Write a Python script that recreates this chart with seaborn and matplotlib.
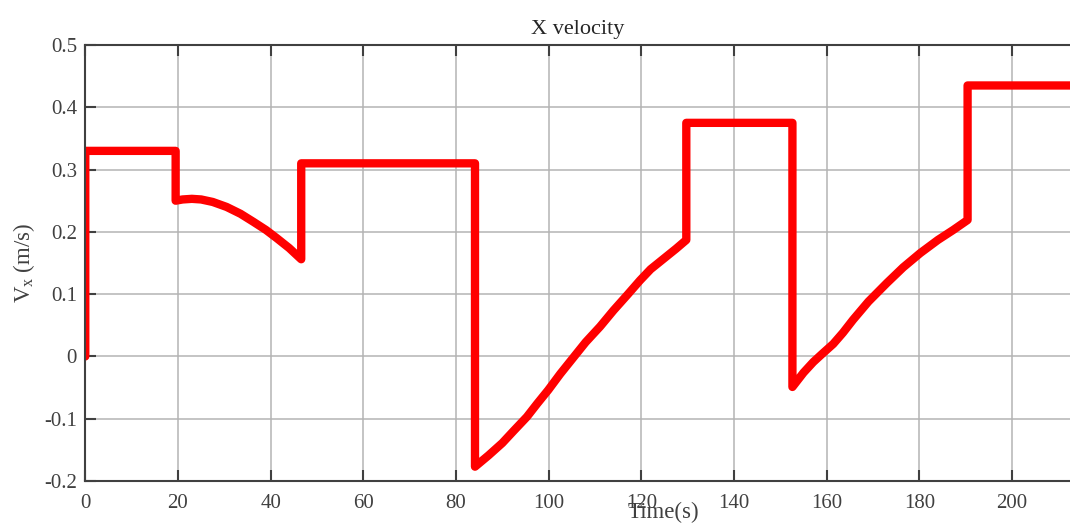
import matplotlib
matplotlib.use("Agg")
import matplotlib.pyplot as plt
import seaborn as sns
import pandas as pd

# Velocity trace along X: time (s) and velocity (m/s)
time_s = [0.0, 0.0, 19.5, 19.5, 21.0, 23.0, 25.0, 27.5, 30.5, 33.5,
          36.3, 39.0, 41.3, 44.0, 46.6, 46.6, 84.1, 84.1, 87.0, 90.0,
          92.5, 95.3, 97.5, 99.9, 102.5, 105.3, 108.0, 111.1, 114.0, 117.0,
          119.7, 122.0, 125.0, 127.5, 129.7, 129.7, 152.6, 152.6, 155.0, 157.1,
          159.0, 161.4, 163.5, 165.7, 169.0, 173.0, 176.5, 180.2, 184.0, 187.3,
          190.4, 190.4, 212.5]
vx = [0.0, 0.33, 0.33, 0.250, 0.252, 0.253, 0.252, 0.248, 0.240, 0.229,
      0.216, 0.203, 0.190, 0.174, 0.156, 0.31, 0.31, -0.177, -0.159, -0.139,
      -0.119, -0.097, -0.076, -0.054, -0.028, -0.002, 0.023, 0.048, 0.074, 0.099,
      0.122, 0.140, 0.158, 0.173, 0.187, 0.375, 0.375, -0.049, -0.026, -0.009,
      0.004, 0.020, 0.038, 0.059, 0.088, 0.118, 0.143, 0.166, 0.187, 0.203,
      0.219, 0.435, 0.435]

x_ticks = [0, 20, 40, 60, 80, 100, 120, 140, 160, 180, 200]
y_ticks = [-0.2, -0.1, 0, 0.1, 0.2, 0.3, 0.4, 0.5]
y_tick_labels = ["-0.2", "-0.1", "0", "0.1", "0.2", "0.3", "0.4", "0.5"]

df = pd.DataFrame({"t": time_s, "vx": vx})

sns.set_theme(style="whitegrid")
plt.rcParams["font.family"] = ["Liberation Serif", "DejaVu Serif"]
plt.rcParams["mathtext.fontset"] = "custom"
plt.rcParams["mathtext.rm"] = "Liberation Serif"
plt.rcParams["mathtext.it"] = "Liberation Serif"

fig = plt.figure(figsize=(10.7, 5.28), dpi=100)
ax = fig.add_axes([0.0797, 0.0890, 1.0 - 0.0797, 0.8258])

sns.lineplot(data=df, x="t", y="vx", ax=ax, estimator=None, sort=False,
             color="#ff0000", linewidth=6.0,
             solid_joinstyle="round", solid_capstyle="round")

ax.set_xlim(0, 212.5)
ax.set_ylim(-0.2, 0.5)
ax.set_xticks(x_ticks)
ax.set_yticks(y_ticks)
ax.set_yticklabels(y_tick_labels)

ax.grid(True, color="#b4b4b4", linewidth=1.1)
ax.set_facecolor("white")
spine_color = "#404040"
for side in ("left", "bottom", "top"):
    ax.spines[side].set_visible(True)
    ax.spines[side].set_color(spine_color)
    ax.spines[side].set_linewidth(1.5)
ax.spines["right"].set_visible(False)

ax.tick_params(axis="both", direction="in", length=8, width=1.5,
               color=spine_color, labelcolor="#404040", labelsize=15)
ax.tick_params(axis="x", top=True, bottom=True, pad=9)
ax.tick_params(axis="y", left=True, right=False, pad=6)

ax.set_title("X velocity", fontsize=16, color="#262626", pad=8)
ax.set_xlabel("Time(s)", fontsize=16.5, color="#404040")
ax.set_ylabel("V$_{\\mathrm{x}}$ (m/s)", fontsize=16.5, color="#404040")
ax.xaxis.set_label_coords(0.5867, -0.048)
ax.yaxis.set_label_coords(-0.049, 0.5)

fig.savefig("out.png", dpi=100, facecolor="white")
